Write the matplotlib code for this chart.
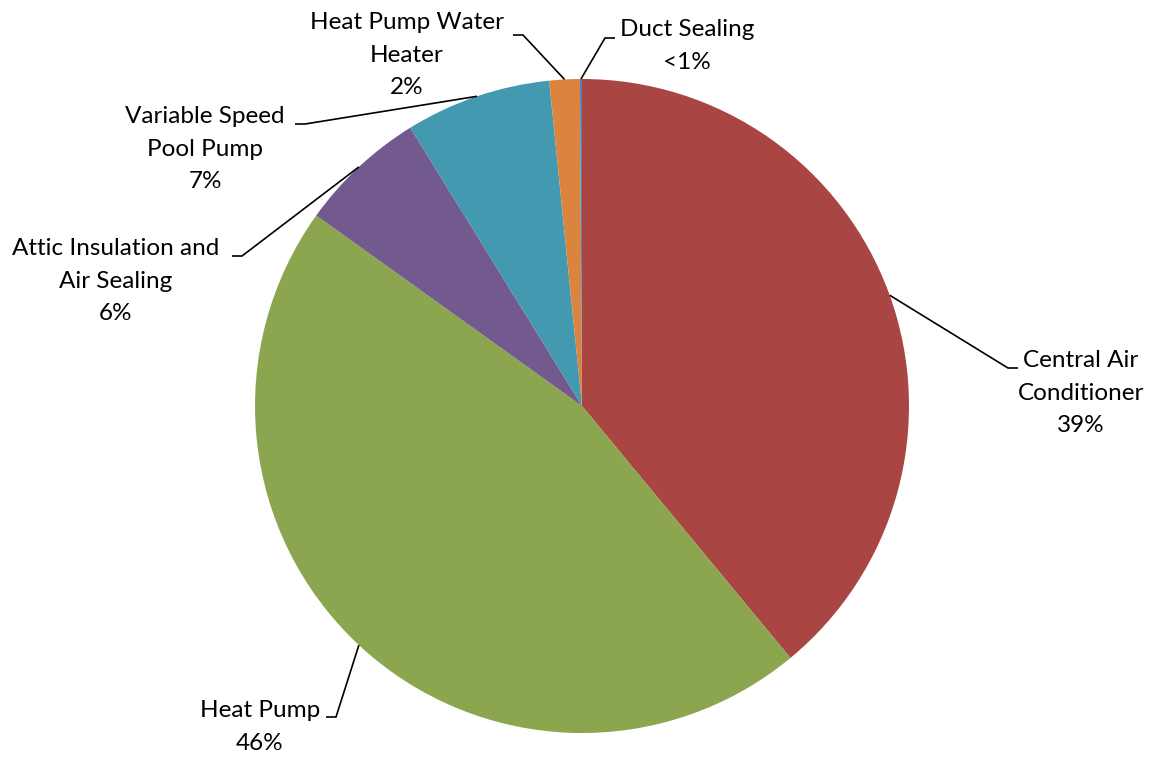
import numpy as np
import matplotlib
matplotlib.use('Agg')
import matplotlib.pyplot as plt

# shares, clockwise from 12 o'clock
categories = ['Central Air\nConditioner', 'Heat Pump', 'Attic Insulation and\nAir Sealing',
              'Variable Speed\nPool Pump', 'Heat Pump Water\nHeater', 'Duct Sealing']
values = [39.0, 45.9, 6.3, 7.2, 1.5, 0.1]
pct_labels = ['39%', '46%', '6%', '7%', '2%', '<1%']
colors = ['#A94543', '#8BA64F', '#735A8E', '#4299B0', '#DB843D', '#4F81BD']

W, H = 1153, 757
plt.rcParams['font.family'] = ['Lato', 'DejaVu Sans']

fig = plt.figure(figsize=(W / 100, H / 100), dpi=100)
ax = fig.add_axes([0, 0, 1, 1])

cx, cy, r = 582, H - 406, 327
wedges, _ = ax.pie(values, colors=colors, startangle=90, counterclock=False,
                   center=(cx, cy), radius=r, frame=True,
                   wedgeprops=dict(linewidth=0))
ax.set_xlim(0, W)
ax.set_ylim(0, H)
ax.axis('off')

# label layout: (elbow x, elbow y, text center x, text block center y, side)
layout = [
    (1008, 368, 1081, 393, 'right'),
    (336, 717, 260, 727, 'left'),
    (242, 256, 116, 281, 'left'),
    (305, 124, 205, 149, 'left'),
    (523, 35, 407, 55, 'left'),
    (605, 38, 687, 46, 'right'),
]

for w, cat, pct, (ex, ey, tx, ty, side) in zip(wedges, categories, pct_labels, layout):
    mid = np.deg2rad((w.theta1 + w.theta2) / 2)
    px, py = cx + r * np.cos(mid), cy + r * np.sin(mid)
    hx = ex + 10 if side == 'right' else ex - 10
    ax.plot([px, ex, hx], [py, H - ey, H - ey], color='black', lw=1.2,
            solid_capstyle='butt', solid_joinstyle='miter')
    ax.text(tx, H - ty, cat + '\n' + pct, ha='center', va='center',
            fontsize=17.5, linespacing=1.68, color='black')

plt.savefig('out.png', format='png', dpi=100)
